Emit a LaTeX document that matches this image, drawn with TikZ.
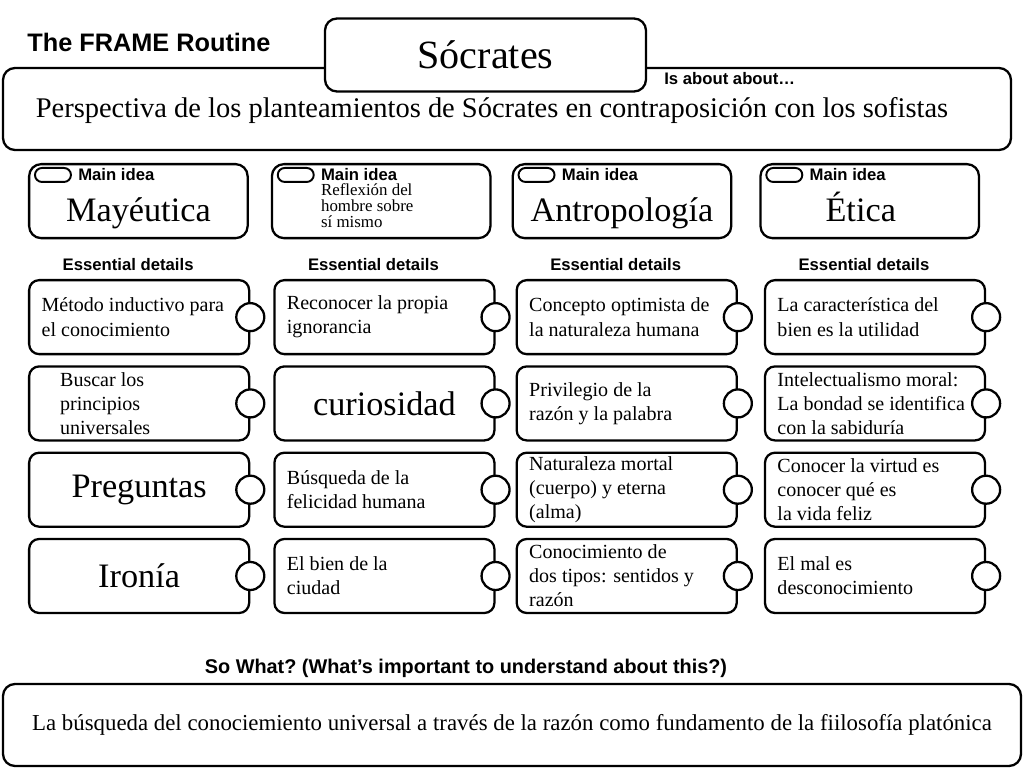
\documentclass[tikz,border=0pt]{standalone}
\usepackage{fontspec}
\setmainfont{Liberation Serif}
\setsansfont{Liberation Sans}
\usetikzlibrary{positioning,calc}

\begin{document}
\begin{tikzpicture}[font=\rmfamily,
   rbox/.style={draw,line width=1.3pt,rounded corners=0.24cm,fill=white},
   idea/.style={rbox,minimum width=4.37cm,minimum height=1.48cm},
   det/.style={rbox,rounded corners=0.2cm,minimum width=4.4cm,minimum height=1.48cm,
               text width=3.9cm,inner xsep=0.25cm,inner ysep=0.04cm,align=flush left,
               font=\fontsize{11.4}{13.7}\selectfont},
   big/.style={font=\fontsize{19.5}{22}\selectfont,align=flush center},
   knob/.style={circle,draw,line width=1.3pt,fill=white,minimum size=0.56cm,inner sep=0pt},
   pill/.style={draw,line width=1.1pt,rounded corners=0.14cm,minimum width=0.72cm,
                minimum height=0.28cm,inner sep=0pt},
   hd/.style={font=\sffamily\bfseries\fontsize{9.5}{11}\selectfont,inner sep=0pt}]
  \useasboundingbox (0,0) rectangle (20.48,-15.36);

  % header
  \node[hd,font=\sffamily\bfseries\fontsize{14.4}{16}\selectfont,anchor=west] (frm) at (0.54,-0.84) {The FRAME Routine};
  \node[rbox,minimum width=20.16cm,minimum height=1.64cm] (about) at (10.14,-2.18) {};
  \node[rbox,minimum width=6.42cm,minimum height=1.46cm,font=\fontsize{22.8}{26}\selectfont] (ttl) at (9.71,-1.1) {Sócrates};
  \node[hd,anchor=west] (isab) at (13.28,-1.58) {Is about about…};
  \node[font=\fontsize{16.2}{19}\selectfont] (persp) at (9.84,-2.22) {Perspectiva de los planteamientos de Sócrates en contraposición con los sofistas};

  % main ideas
  \node[idea,anchor=north west] (m1) at (0.56,-3.26) {};
  \node[idea,right=0.44cm of m1] (m2) {};
  \node[idea,right=0.40cm of m2] (m3) {};
  \node[idea,right=0.54cm of m3] (m4) {};
  \foreach \i in {1,...,4}{
    \node[pill,anchor=north west] (p\i) at ($(m\i.north west)+(0.12,-0.08)$) {};
    \node[hd,right=0.12cm of p\i] (mi\i) {Main idea};
  }
  \node[big,anchor=base] (w1) at ($(m1.center)+(0,-0.4)$) {Mayéutica};
  \node[anchor=north west,inner sep=0pt,align=flush left,font=\fontsize{9.6}{9}\selectfont] (w2)
       at ($(mi2.south west)+(0,-0.04)$) {Reflexión del\\hombre sobre\\sí mismo};
  \node[big,anchor=base] (w3) at ($(m3.center)+(0,-0.4)$) {Antropología};
  \node[big,anchor=base] (w4) at ($(m4.center)+(-0.18,-0.4)$) {Ética};

  % essential details
  \node[det,anchor=north west] (d11) at (0.56,-5.58) {Método inductivo para\\el conocimiento};
  \node[det,right=0.46cm of d11] (d12) {Reconocer la propia\\ignorancia};
  \node[det,right=0.40cm of d12] (d13) {Concepto optimista de\\la naturaleza humana};
  \node[det,right=0.52cm of d13] (d14) {La característica del\\bien es la utilidad};

  \node[det,text width=3.16cm,inner xsep=0.62cm,below=0.2cm of d11] (d21) {Buscar los\\principios\\universales};
  \node[det,big,below=0.2cm of d12] (d22) {curiosidad};
  \node[det,below=0.2cm of d13] (d23) {Privilegio de la\\razón y la palabra};
  \node[det,below=0.2cm of d14] (d24) {Intelectualismo moral:\\La bondad se identifica\\con la sabiduría};

  \node[det,big,below=0.2cm of d21] (d31) {Preguntas};
  \node[det,below=0.2cm of d22] (d32) {Búsqueda de la\\felicidad humana};
  \node[det,below=0.2cm of d23] (d33) {Naturaleza mortal\\(cuerpo) y eterna\\(alma)};
  \node[det,below=0.2cm of d24] (d34) {Conocer la virtud es\\conocer qué es\\la vida feliz};

  \node[det,big,below=0.2cm of d31] (d41) {Ironía};
  \node[det,below=0.2cm of d32] (d42) {El bien de la\\ciudad};
  \node[det,below=0.2cm of d33] (d43) {Conocimiento de\\dos tipos: sentidos y\\razón};
  \node[det,below=0.2cm of d34] (d44) {El mal es\\desconocimiento};

  \foreach \c in {1,...,4}
    \node[hd,above=0.16cm of d1\c,xshift=-0.22cm] (ed\c) {Essential details};
  \foreach \r in {1,...,4}{
    \foreach \c in {1,...,4}
      \node[knob] (k\r\c) at (d\r\c.east) {};
  }

  % so what
  \node[hd,font=\sffamily\bfseries\fontsize{11.3}{13}\selectfont] (sowhat) at (9.32,-13.36)
       {So What?\ (What’s important to understand about this?)};
  \node[rbox,minimum width=20.36cm,minimum height=1.64cm,font=\fontsize{13}{15}\selectfont] (sum) at (10.24,-14.5)
       {La búsqueda del conociemiento universal a través de la razón como fundamento de la fiilosofía platónica};
\end{tikzpicture}
\end{document}
